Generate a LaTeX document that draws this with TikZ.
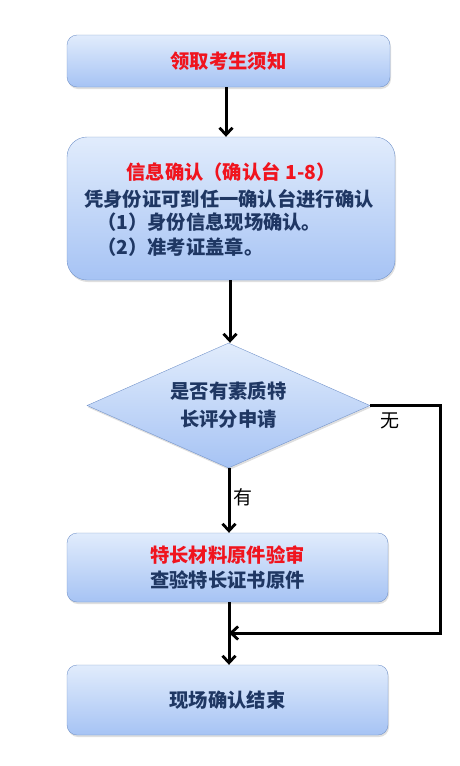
\documentclass[tikz,border=0pt]{standalone}
\usepackage{fontspec}
\usepackage{tikz}
\usetikzlibrary{shapes.geometric, arrows.meta, shadows}

\newfontfamily\cjk{Noto Sans CJK SC}
\definecolor{boxtop}{HTML}{E1ECFC}
\definecolor{boxbot}{HTML}{A6C3F4}
\definecolor{boxline}{HTML}{7595CB}
\definecolor{navy}{HTML}{1F3763}
\definecolor{alert}{HTML}{F0141E}

\begin{document}
\begin{tikzpicture}[x=1pt, y=-1pt,
    font=\cjk\fontsize{19}{25}\selectfont,
    box/.style={draw=boxline, top color=boxtop, bottom color=boxbot,
      rounded corners=10pt, text=navy, font=\cjk\bfseries\fontsize{19.3}{25}\selectfont,
      drop shadow={opacity=0.25, shadow xshift=1pt, shadow yshift=-2pt}},
    line/.style={line width=3pt, -{Straight Barb[length=7pt, width=13pt, line width=2.8pt]}},
    note/.style={text=navy, font=\cjk\bfseries\fontsize{19.3}{25}\selectfont}]
    \useasboundingbox (0,0) rectangle (460,766);

    % boxes
    \node[box, minimum width=323pt, minimum height=52pt] (read) at (228.5,61)
        {\textcolor{alert}{领取考生须知}};
    \node[box, rounded corners=20pt, minimum width=328pt, minimum height=143pt] (confirm) at (231,208.5) {};
    \node[note, text=alert] (ctitle) at (231,172) {信息确认（确认台 1-8）};
    \node[note, anchor=west, inner sep=0pt] (cline) at (84,199) {凭身份证可到任一确认台进行确认};
    \node[note, anchor=west, inner sep=0pt] (cone) at (97,222) {（1）身份信息现场确认。};
    \node[note, anchor=west, inner sep=0pt] (ctwo) at (97,247) {（2）准考证盖章。};

    \node[shape=diamond, aspect=2.26, draw=boxline, top color=boxtop, bottom color=boxbot,
        minimum width=283pt, minimum height=125pt, inner sep=0pt, align=center,
        text=navy, font=\cjk\bfseries\fontsize{19.3}{28}\selectfont,
        drop shadow={opacity=0.25, shadow xshift=1pt, shadow yshift=-2pt}] (apply) at (228.5,405.5)
        {是否有素质特\\长评分申请};

    \node[box, minimum width=321pt, minimum height=69pt, align=center] (check) at (227.5,567.5)
        {\textcolor{alert}{特长材料原件验审}\\查验特长证书原件};
    \node[box, minimum width=321pt, minimum height=70pt] (done) at (227.5,700) {现场确认结束};

    % connectors
    \coordinate (merge) at (229,633);
    \draw[line] (read.south -| 226,0) -- (confirm.north -| 226,0);
    \draw[line] (confirm.south -| 230,0) -- (apply.north -| 230,0);
    \draw[line] (apply.south -| 229,0) -- (check.north -| 229,0);
    \draw[line, -] (check.south -| merge) -- (merge);
    \draw[line] (merge) -- (done.north -| merge);
    \draw[line] (apply.east) -- ++(70,0) |- (merge);

    \node (no) at (390,421) {无};
    \node (yes) at (243,497) {有};
\end{tikzpicture}
\end{document}
